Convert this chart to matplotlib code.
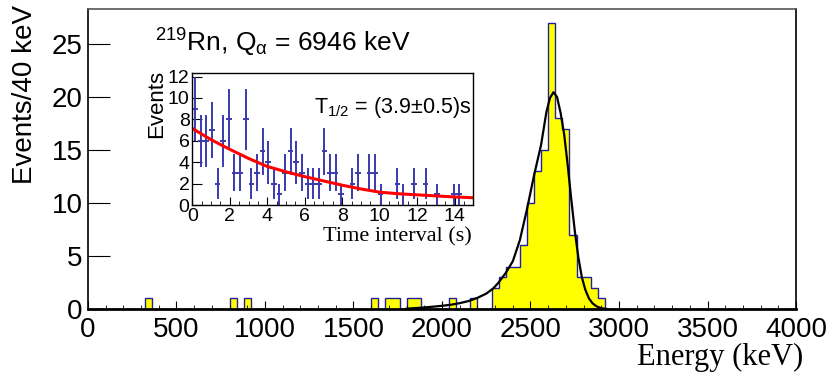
import matplotlib
matplotlib.use('Agg')
import matplotlib.pyplot as plt
import numpy as np
from matplotlib.ticker import MultipleLocator

plt.rcParams['font.family'] = ['Liberation Sans', 'DejaVu Sans']
plt.rcParams['mathtext.fontset'] = 'custom'
plt.rcParams['mathtext.rm'] = 'Liberation Sans'
plt.rcParams['mathtext.it'] = 'Liberation Sans:italic'
plt.rcParams['mathtext.default'] = 'regular'

# energy spectrum, 40 keV bins (lower edge in keV, counts)
bin_lo = [320, 800, 880, 1600, 1680, 1720, 1800, 1840, 2040, 2160,
          2280, 2320, 2360, 2400, 2440, 2480, 2520, 2560, 2600, 2640,
          2680, 2720, 2760, 2800, 2840, 2880]
counts = [1, 1, 1, 1, 1, 1, 1, 1, 1, 1,
          2, 3, 4, 4, 6, 10, 13, 15, 27, 18,
          17, 7, 3, 3, 2, 1]

# fitted peak shape
fit_e = [1800, 1880, 1950, 2000, 2050, 2100, 2150, 2200, 2250, 2290, 2320,
         2360, 2400, 2440, 2480, 2520, 2560, 2590, 2610, 2630, 2650, 2670,
         2690, 2710, 2730, 2750, 2770, 2790, 2810, 2830, 2850, 2870, 2890,
         2910, 2930]
fit_n = [0.03, 0.12, 0.22, 0.3, 0.4, 0.55, 0.75, 1.05, 1.45, 1.95, 2.5,
         3.4, 4.5, 6.5, 9.4, 12.6, 15.5, 18.6, 19.9, 20.45, 20.0, 18.5,
         16.5, 13.6, 10.4, 7.4, 4.9, 3.0, 1.8, 1.0, 0.55, 0.28, 0.13,
         0.05, 0.01]

# inset: time interval distribution, 0.3 s bins (centres, counts)
t_mid = [0.15, 0.45, 0.75, 1.05, 1.35, 1.65, 1.95, 2.25, 2.55, 2.85,
         3.15, 3.45, 3.75, 4.05, 4.35, 4.65, 4.95, 5.25, 5.55, 5.85,
         6.15, 6.45, 6.75, 7.05, 7.35, 7.65, 7.95, 8.55, 8.85, 9.45,
         9.75, 10.05, 10.95, 11.25, 11.85, 12.45, 13.05, 13.95, 14.25]
t_cnt = [9, 6, 6, 7, 2, 6, 8, 3, 3, 8,
         2, 3, 5, 4, 2, 1, 3, 5, 4, 3,
         2, 2, 2, 5, 3, 3, 1, 2, 3, 3,
         3, 1, 2, 1, 2, 2, 1, 1, 1]

# exponential fit curve
fit_t = [0, 1, 2, 3, 4, 5, 6, 7, 8, 9, 10, 11, 12, 13, 14, 15]
fit_y = [7.15, 6.1, 5.2, 4.35, 3.6, 3.1, 2.65, 2.25, 1.85, 1.5, 1.2,
         1.05, 0.95, 0.85, 0.75, 0.68]

fig = plt.figure(figsize=(8.33, 3.79), dpi=100)
ax = fig.add_axes([0.1056, 0.1847, 0.85, 0.7916])

edges = np.arange(0, 4001, 40)
h = np.zeros(len(edges) - 1)
for lo, c in zip(bin_lo, counts):
    h[lo // 40] = c
ax.stairs(h, edges, fill=True, color='#ffff00', lw=0)
ax.stairs(h, edges, color='#2020a0', lw=1.0)
ax.plot(fit_e, fit_n, color='black', lw=1.6)

ax.set_xlim(0, 4000)
ax.set_ylim(0, 28.3)
ax.xaxis.set_major_locator(MultipleLocator(500))
ax.xaxis.set_minor_locator(MultipleLocator(100))
ax.yaxis.set_major_locator(MultipleLocator(5))
ax.tick_params(axis='both', which='major', direction='in', labelsize=20)
ax.tick_params(axis='x', which='major', length=6, pad=6)
ax.tick_params(axis='x', which='minor', direction='in', length=3)
ax.tick_params(axis='y', which='major', length=16, pad=4)
for s in ax.spines.values():
    s.set_linewidth(1.2)
ax.spines['top'].set_color('#555555')
ax.spines['bottom'].set_linewidth(2)

fig.text(0.030, 1 - 5 / 379, 'Events/40 keV', rotation=90, ha='center',
         va='top', fontsize=20)
fig.text(803 / 833, 1 - 357 / 379, 'Energy (keV)', ha='right', va='center',
         fontsize=22, family='Liberation Serif')
fig.text(155 / 833, 1 - 52 / 379, r'$^{219}$Rn, Q$_{\alpha}$ = 6946 keV',
         ha='left', va='baseline', fontsize=19)

# inset
ins = fig.add_axes([0.2309, 0.4591, 0.3373, 0.3475])
t_cnt_a = np.array(t_cnt, dtype=float)
ins.errorbar(t_mid, t_cnt_a, xerr=0.15, yerr=np.sqrt(t_cnt_a), fmt='none',
             ecolor='#3a3aae', elinewidth=1.4, capsize=0)
ins.plot(fit_t, fit_y, color='#ff0000', lw=2.2)
ins.set_xlim(0, 15)
ins.set_ylim(0, 12.3)
ins.xaxis.set_major_locator(MultipleLocator(2))
ins.xaxis.set_minor_locator(MultipleLocator(0.5))
ins.yaxis.set_major_locator(MultipleLocator(2))
ins.tick_params(axis='both', which='major', direction='in', labelsize=14)
ins.tick_params(axis='x', which='major', length=6, pad=2)
ins.tick_params(axis='x', which='minor', direction='in', length=3)
ins.tick_params(axis='y', which='major', length=7, pad=2)
for s in ins.spines.values():
    s.set_linewidth(1.0)

fig.text(471.7 / 833, 1 - 237 / 379, 'Time interval (s)', ha='right',
         va='center', fontsize=16, family='Liberation Serif')
fig.text(157 / 833, 1 - 70 / 379, 'Events', rotation=90, ha='center',
         va='top', fontsize=16)
fig.text(314 / 833, 1 - 113.3 / 379, 'T$_{1/2}$ = (3.9±0.5)s', ha='left',
         va='baseline', fontsize=15.5)

fig.savefig('out.png', dpi=100)
